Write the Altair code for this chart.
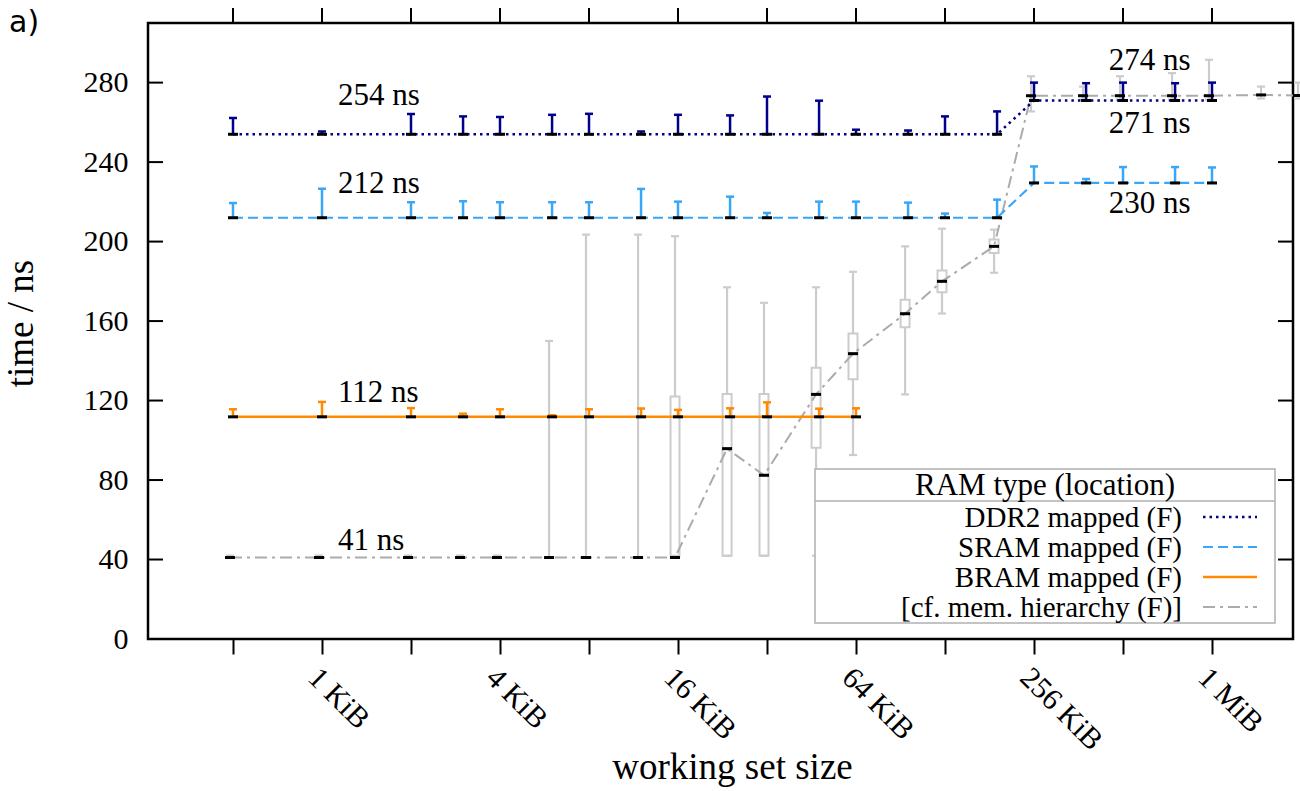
import math
import altair as alt
import pandas as pd

# ---------------- data ----------------
# working-set sizes in KiB
sizes_kib = [0.5, 1, 2, 3, 4, 6, 8, 12, 16, 24, 32, 48, 64, 96, 128, 192,
             256, 384, 512, 768, 1024]

ddr2_med = [254, 254, 254, 254, 254, 254, 254, 254, 254, 254, 254, 254, 254,
            254, 254, 254, 271, 271, 271, 271, 271]
ddr2_max = [262.2, 255.4, 264.2, 263.0, 262.7, 263.8, 264.3, 255.4, 263.8,
            263.5, 273.0, 270.9, 256.3, 255.9, 263.0, 265.5, 280.0, 279.7,
            280.0, 279.7, 280.0]

sram_med = [212, 212, 212, 212, 212, 212, 212, 212, 212, 212, 212, 212, 212,
            212, 212, 212, 229.5, 229.5, 229.5, 229.5, 229.5]
sram_max = [219.4, 226.6, 219.8, 220.3, 219.8, 219.8, 219.8, 226.5, 220.1,
            222.6, 214.4, 220.1, 220.1, 219.6, 214.1, 221.1, 237.8, 231.5,
            237.5, 237.5, 237.3]

bram_sizes_kib = [0.5, 1, 2, 3, 4, 6, 8, 12, 16, 24, 32, 48, 64]
bram_med = [111.8] * 13
bram_max = [115.6, 119.3, 116.2, 113.4, 115.6, 112.6, 115.6, 116.0, 115.3,
            116.1, 119.1, 115.9, 116.1]

hier_sizes_kib = [0.5, 1, 2, 3, 4, 6, 8, 12, 16, 24, 32, 48, 64, 96, 128, 192,
                  256, 384, 512, 768, 1024, 1536, 2048]
hier_med = [41, 41, 41, 41, 41, 41, 41, 41, 41, 95.8, 82.4, 123.1, 143.6,
            163.7, 180.0, 197.6, 273.4, 273.4, 273.4, 273.4, 273.4, 273.8, 273.5]
hier_lo = [41, 41, 41, 41, 41, 41, 41, 41, 41, 41.9, 41.9, 41.9, 92.6, 123.1,
           163.8, 184.3, 265.5, 271.5, 271.5, 271.5, 271.5, 272.0, 272.0]
hier_hi = [42, 42, 42, 42, 42, 150.0, 203.5, 203.5, 202.7, 177.0, 169.2, 177.0,
           184.8, 197.6, 206.5, 206.0, 283.2, 278.0, 283.2, 284.8, 291.5,
           278.0, 280.0]
hier_q1 = [41, 41, 41, 41, 41, 41, 41, 41, 41.9, 41.9, 41.9, 96.3, 130.7,
           156.9, 174.5, 194.3, 273.4, 273.4, 273.4, 273.4, 273.4, 273.8, 273.5]
hier_q3 = [41, 41, 41, 41, 41, 41, 41, 41, 122.0, 123.3, 123.3, 136.5, 153.8,
           170.7, 185.4, 201.0, 273.4, 273.4, 273.4, 273.4, 273.4, 273.8, 273.5]

series_names = ["DDR2 mapped (F)", "SRAM mapped (F)", "BRAM mapped (F)",
                "[cf. mem. hierarchy (F)]"]

annot_text = ["254 ns", "212 ns", "112 ns", "41 ns", "274 ns", "271 ns", "230 ns"]
annot_lx = [10.18, 10.18, 10.18, 10.18, 18.84, 18.84, 18.84]
annot_y = [268.8, 224.4, 119.1, 45.0, 286.4, 254.6, 214.3]

x_tick_exp = [9, 10, 11, 12, 13, 14, 15, 16, 17, 18, 19, 20]
x_tick_labels = {10: "1 KiB", 12: "4 KiB", 14: "16 KiB", 16: "64 KiB",
                 18: "256 KiB", 20: "1 MiB"}
y_ticks = [0, 40, 80, 120, 160, 200, 240, 280]

# ---------------- styling ----------------
W, H = 1145, 616
SERIF = "Liberation Serif"
FS_TICK = 30
FS_ANN = 31
FS_LEG = 29
FS_TITLE = 37
C_DDR2 = "#00008b"
C_SRAM = "#3aa6f7"
C_BRAM = "#ff8a00"
C_HIER = "#ababab"
C_HIER_BAR = "#cccccc"
GOFF = -3  # slight horizontal shift of the hierarchy series


def lx(kib):
    return [math.log2(k * 1024) for k in kib]


ddr2 = pd.DataFrame({"lx": lx(sizes_kib), "med": ddr2_med, "hi": ddr2_max})
sram = pd.DataFrame({"lx": lx(sizes_kib), "med": sram_med, "hi": sram_max})
bram = pd.DataFrame({"lx": lx(bram_sizes_kib), "med": bram_med, "hi": bram_max})
hier = pd.DataFrame({"lx": lx(hier_sizes_kib), "med": hier_med, "lo": hier_lo,
                     "hi": hier_hi, "q1": hier_q1, "q3": hier_q3})
hier_box = hier[hier["q3"] - hier["q1"] > 0.5]
annots = pd.DataFrame({"text": annot_text, "lx": annot_lx, "y": annot_y})
yt = pd.DataFrame({"v": y_ticks})
xt = pd.DataFrame({"lx": [float(e) for e in x_tick_exp]})

xs = alt.Scale(domain=[8.045, 20.91], nice=False, zero=False)
ys = alt.Scale(domain=[0, 310], nice=False, zero=False)

label_expr = ""
for k, v in x_tick_labels.items():
    label_expr += f"datum.value == {k} ? '{v}' : "
label_expr += "''"

x_axis = alt.Axis(values=x_tick_exp, labelExpr=label_expr, title="working set size",
                  grid=False, domain=False, tickSize=15, tickWidth=2, tickColor="black",
                  labelAngle=45, labelAlign="left", labelBaseline="top",
                  labelPadding=8, labelOffset=1, labelFont=SERIF, labelFontSize=FS_TICK,
                  labelColor="black", titleFont=SERIF, titleFontSize=FS_TITLE,
                  titleFontWeight="normal", titleColor="black", titleAlign="center",
                  titleBaseline="alphabetic", titleX=584, titleY=139,
                  labelOverlap=False, labelFlush=False)
y_axis = alt.Axis(values=y_ticks, title="time / ns", grid=False, domain=False,
                  ticks=False, labelPadding=20, labelFont=SERIF, labelFontSize=FS_TICK,
                  labelColor="black", titleFont=SERIF, titleFontSize=FS_TITLE,
                  titleFontWeight="normal", titleColor="black", titleAngle=-90,
                  titleAlign="center", titleBaseline="alphabetic", titleX=-116,
                  titleY=300)


def X(field="lx"):
    return alt.X(f"{field}:Q", scale=xs, axis=x_axis)


def Y(field):
    return alt.Y(f"{field}:Q", scale=ys, axis=y_axis)


layers = []

# ---- hierarchy (gray) whiskers, boxes, caps
layers.append(alt.Chart(hier).mark_rule(color=C_HIER_BAR, strokeWidth=2.2, xOffset=GOFF).encode(
    x=X(), y=Y("lo"), y2="hi:Q"))
layers.append(alt.Chart(hier_box).mark_rect(
    fill="white", stroke=C_HIER_BAR, strokeWidth=2,
    xOffset=GOFF - 4.5, x2Offset=GOFF + 4.5).encode(
    x=X(), x2="lx:Q", y=Y("q1"), y2="q3:Q"))
for fld in ["hi", "lo"]:
    layers.append(alt.Chart(hier).mark_rule(
        color=C_HIER_BAR, strokeWidth=2.2, xOffset=GOFF - 4, x2Offset=GOFF + 4).encode(
        x=X(), x2="lx:Q", y=Y(fld)))

# ---- lines
layers.append(alt.Chart(hier).mark_line(
    color=C_HIER, strokeWidth=2, strokeDash=[12, 5, 3, 5], xOffset=GOFF, clip=True).encode(
    x=X(), y=Y("med")))
layers.append(alt.Chart(ddr2).mark_line(
    color=C_DDR2, strokeWidth=2.5, strokeDash=[2.5, 4]).encode(x=X(), y=Y("med")))
layers.append(alt.Chart(sram).mark_line(
    color=C_SRAM, strokeWidth=2.2, strokeDash=[10, 5]).encode(x=X(), y=Y("med")))
layers.append(alt.Chart(bram).mark_line(
    color=C_BRAM, strokeWidth=2.5).encode(x=X(), y=Y("med")))

# ---- colored error bars
for df, col in [(ddr2, C_DDR2), (sram, C_SRAM), (bram, C_BRAM)]:
    layers.append(alt.Chart(df).mark_rule(color=col, strokeWidth=2.5).encode(
        x=X(), y=Y("med"), y2="hi:Q"))
    layers.append(alt.Chart(df).mark_rule(
        color=col, strokeWidth=2.5, xOffset=-4, x2Offset=4).encode(
        x=X(), x2="lx:Q", y=Y("hi")))

# ---- black median ticks
for df, off in [(hier, GOFF), (ddr2, 0), (sram, 0), (bram, 0)]:
    layers.append(alt.Chart(df).mark_rule(
        color="black", strokeWidth=3, xOffset=off - 5, x2Offset=off + 5).encode(
        x=X(), x2="lx:Q", y=Y("med")))

# ---- value annotations
layers.append(alt.Chart(annots).mark_text(
    font=SERIF, fontSize=FS_ANN, align="left", baseline="alphabetic", color="black").encode(
    x=X(), y=Y("y"), text="text:N"))

# ---- mirrored / inward ticks
layers.append(alt.Chart(yt).mark_rule(color="black", strokeWidth=2).encode(
    x=alt.value(0), x2=alt.value(15), y=Y("v")))
layers.append(alt.Chart(yt).mark_rule(color="black", strokeWidth=2).encode(
    x=alt.value(W - 15), x2=alt.value(W), y=Y("v")))
layers.append(alt.Chart(xt).mark_rule(color="black", strokeWidth=2).encode(
    x=X("lx"), y=alt.value(-15), y2=alt.value(0)))

# ---- "a)" panel tag
layers.append(alt.Chart(pd.DataFrame({"t": ["a)"]})).mark_text(
    font="DejaVu Sans", fontSize=30, align="left", baseline="alphabetic",
    color="black").encode(x=alt.value(-139), y=alt.value(9), text="t:N"))

# ---- legend (drawn like the reference, header + right-aligned entries)
LX0, LX1, LY0, LY1 = 667, 1127, 446, 600
one = pd.DataFrame({"t": ["RAM type (location)"]})
layers.append(alt.Chart(one).mark_rect(
    fill="white", stroke="#b0b0b0", strokeWidth=1.5).encode(
    x=alt.value(LX0), x2=alt.value(LX1), y=alt.value(LY0), y2=alt.value(LY1)))
layers.append(alt.Chart(one).mark_rule(color="#b0b0b0", strokeWidth=1.5).encode(
    x=alt.value(LX0), x2=alt.value(LX1), y=alt.value(478)))
layers.append(alt.Chart(one).mark_text(
    font=SERIF, fontSize=FS_LEG + 2, align="center", baseline="middle", color="black").encode(
    x=alt.value((LX0 + LX1) / 2), y=alt.value(463), text="t:N"))
styles = [(C_DDR2, [2.5, 4], 2.5), (C_SRAM, [10, 5], 2.2), (C_BRAM, None, 2.5),
          (C_HIER, [12, 5, 3, 5], 2)]
for i, (name, (col, dash, sw)) in enumerate(zip(series_names, styles)):
    yy = 494 + 30 * i
    d = pd.DataFrame({"t": [name]})
    layers.append(alt.Chart(d).mark_text(
        font=SERIF, fontSize=FS_LEG, align="right", baseline="middle", color="black").encode(
        x=alt.value(1034), y=alt.value(yy + 1), text="t:N"))
    kw = dict(color=col, strokeWidth=sw)
    if dash:
        kw["strokeDash"] = dash
    layers.append(alt.Chart(d).mark_rule(**kw).encode(
        x=alt.value(1055), x2=alt.value(1109), y=alt.value(yy)))

chart = alt.layer(*layers).properties(
    width=W, height=H,
    background="white",
    padding={"left": 148, "top": 23, "right": 7, "bottom": 152},
    autosize=alt.AutoSizeParams(type="none"),
).configure_view(stroke="black", strokeWidth=2.5)

chart.save("out.html", embed_options={"renderer": "svg", "actions": False})
